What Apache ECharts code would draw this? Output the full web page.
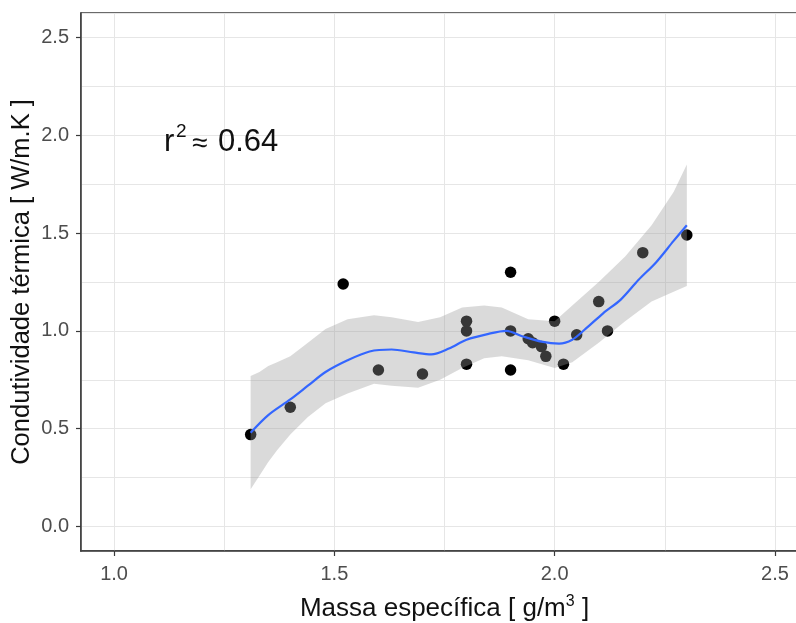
<!DOCTYPE html>
<html>
<head>
<meta charset="utf-8">
<script src="https://cdn.jsdelivr.net/npm/echarts@6/dist/echarts.min.js"></script>
<style>html,body{margin:0;padding:0;background:#fff;overflow:hidden;}#c{width:796px;height:623px;}</style>
</head>
<body>
<div id="c"></div>
<script>
// Observed points
var density = [1.31,1.40,1.52,1.60,1.70,1.80,1.80,1.80,1.90,1.90,1.90,1.94,1.95,1.97,1.98,2.00,2.02,2.05,2.10,2.12,2.20,2.30];
var conductivity = [0.47,0.61,1.24,0.80,0.78,1.05,1.00,0.83,1.30,1.00,0.80,0.96,0.94,0.92,0.87,1.05,0.83,0.98,1.15,1.00,1.40,1.49];
// Smooth (loess) fit
var fitX = [1.31,1.35,1.40,1.44,1.48,1.53,1.58,1.63,1.68,1.72,1.76,1.80,1.85,1.89,1.93,1.97,2.01,2.04,2.07,2.11,2.15,2.19,2.23,2.27,2.30];
var fitY = [0.48,0.57,0.65,0.72,0.79,0.85,0.895,0.905,0.89,0.88,0.91,0.955,0.985,1.00,0.97,0.945,0.935,0.955,1.01,1.09,1.16,1.26,1.35,1.46,1.54];
// Confidence band
var bandX = [1.31,1.33,1.35,1.37,1.40,1.44,1.48,1.53,1.59,1.63,1.69,1.74,1.79,1.84,1.88,1.94,2.00,2.04,2.10,2.16,2.22,2.27,2.30];
var bandUpper = [0.77,0.79,0.82,0.84,0.87,0.94,1.01,1.06,1.08,1.07,1.045,1.07,1.12,1.13,1.12,1.06,1.05,1.13,1.25,1.38,1.54,1.71,1.85];
var bandLower = [0.19,0.26,0.33,0.39,0.47,0.56,0.63,0.68,0.73,0.72,0.71,0.75,0.81,0.86,0.87,0.85,0.81,0.84,0.94,1.05,1.15,1.20,1.23];
// Tick labels
var xTicks = [1.0,1.5,2.0,2.5];
var yTicks = [0.0,0.5,1.0,1.5,2.0,2.5];

var FONT = '"Liberation Sans", Arial, sans-serif';
var chart = echarts.init(document.getElementById('c'), null, {renderer:'canvas'});

var pts = density.map(function(x,i){return [x, conductivity[i]];});
var fit = fitX.map(function(x,i){return [x, fitY[i]];});

var option = {
  animation:false,
  backgroundColor:'#fff',
  grid:{left:81, top:13, width:727, height:538, containLabel:false, outerBoundsMode:'none',
        show:true, borderColor:'#3a3a3a', borderWidth:1.5, backgroundColor:'transparent'},
  xAxis:[{
    type:'value', min:0.925, max:2.575, minInterval:0.5, maxInterval:0.5,
    position:'bottom',
    name:'Massa específica [ g/m{s|3} ]', nameLocation:'middle', nameGap:43, nameMoveOverlap:false,
    nameTextStyle:{fontFamily:FONT, fontSize:26, color:'#111', lineHeight:30,
      rich:{s:{fontFamily:FONT, fontSize:16, verticalAlign:'top', lineHeight:30, color:'#111'}}},
    axisLine:{show:true, onZero:false, lineStyle:{color:'#3a3a3a', width:1.5}},
    axisTick:{show:true, length:5, customValues:xTicks, lineStyle:{color:'#3a3a3a', width:1.2}},
    axisLabel:{customValues:xTicks, margin:13, fontFamily:FONT, fontSize:20, color:'#4d4d4d',
      formatter:function(v){return v.toFixed(1);}},
    splitLine:{show:false}
  },{
    type:'value', min:0.925, max:2.575, minInterval:0.25, maxInterval:0.25,
    position:'top',
    axisLine:{show:false}, axisTick:{show:false}, axisLabel:{show:false},
    splitLine:{show:true, lineStyle:{color:'#e6e6e6', width:1}}
  }],
  yAxis:[{
    type:'value', min:-0.125, max:2.625, minInterval:0.5, maxInterval:0.5,
    position:'left',
    name:'Condutividade térmica [ W/m.K ]', nameLocation:'middle', nameGap:46, nameRotate:90, nameMoveOverlap:false,
    nameTextStyle:{fontFamily:FONT, fontSize:25.5, color:'#111'},
    axisLine:{show:true, onZero:false, lineStyle:{color:'#3a3a3a', width:1.5}},
    axisTick:{show:true, length:5, customValues:yTicks, lineStyle:{color:'#3a3a3a', width:1.2}},
    axisLabel:{customValues:yTicks, margin:12, fontFamily:FONT, fontSize:20, color:'#4d4d4d',
      formatter:function(v){return v.toFixed(1);}},
    splitLine:{show:false}
  },{
    type:'value', min:-0.125, max:2.625, minInterval:0.25, maxInterval:0.25,
    position:'right',
    axisLine:{show:false}, axisTick:{show:false}, axisLabel:{show:false},
    splitLine:{show:true, lineStyle:{color:'#e6e6e6', width:1}}
  }],
  series:[
    {
      type:'scatter', xAxisIndex:0, yAxisIndex:0, data:pts, symbol:'circle', symbolSize:11.5,
      itemStyle:{color:'#000', opacity:1}, z:3, silent:true
    },
    {
      type:'custom', xAxisIndex:0, yAxisIndex:0, z:4, silent:true,
      data:[[bandX[0], bandLower[0]]],
      renderItem:function(params, api){
        var poly = [];
        for (var i=0;i<bandX.length;i++) poly.push(api.coord([bandX[i], bandUpper[i]]));
        for (var j=bandX.length-1;j>=0;j--) poly.push(api.coord([bandX[j], bandLower[j]]));
        return {type:'polygon', shape:{points:poly}, style:{fill:'rgba(153,153,153,0.36)', stroke:null}};
      }
    },
    {
      type:'line', xAxisIndex:0, yAxisIndex:0, data:fit, smooth:0.3, showSymbol:false, z:5, silent:true,
      lineStyle:{color:'#3366FF', width:2.2}
    }
  ],
  graphic:[
    {type:'text', left:164, top:127, z:10, style:{text:'r', font:'31px '+FONT, fill:'#111'}},
    {type:'text', left:176, top:122, z:10, style:{text:'2', font:'19px '+FONT, fill:'#111'}},
    {type:'text', left:192, top:130, z:10, style:{text:'≈', font:'28px '+FONT, fill:'#111'}},
    {type:'text', left:218, top:127, z:10, style:{text:'0.64', font:'31px '+FONT, fill:'#111'}}
  ]
};
chart.setOption(option);
</script>
</body>
</html>
